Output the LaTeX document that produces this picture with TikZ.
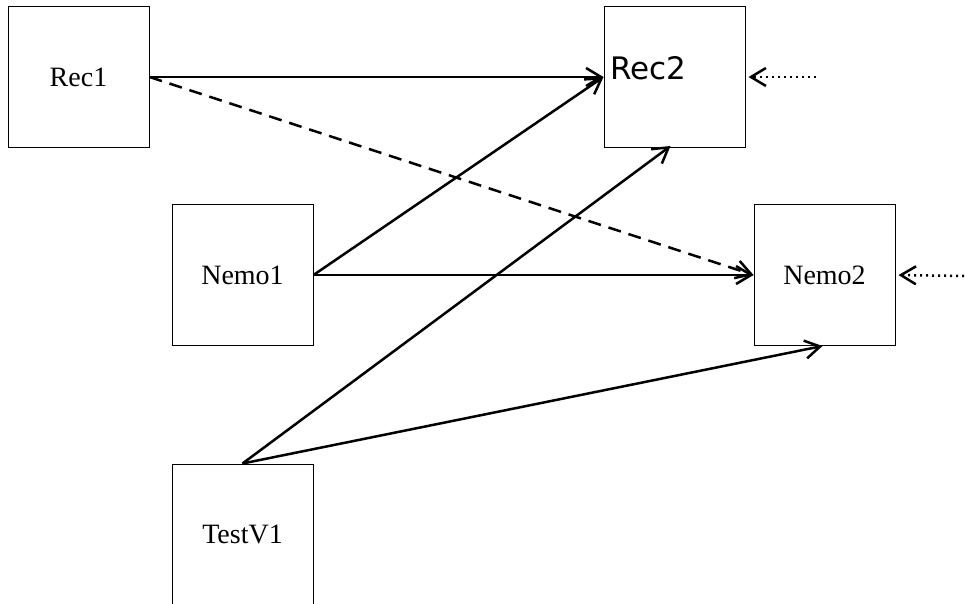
\documentclass[tikz,border=0pt]{standalone}
\usepackage{fontspec}
\setmainfont{Liberation Serif}
\newfontfamily\dejavu{DejaVu Sans}
\usetikzlibrary{arrows.meta}

\begin{document}
\begin{tikzpicture}[x=1pt, y=-1pt,
    box/.style={draw, line width=1pt, minimum width=141pt, minimum height=141pt,
        inner sep=0pt, font=\fontsize{28}{32}\selectfont},
    link/.style={line width=2.5pt, -{Straight Barb[length=15pt,width=18pt]}},
    feed/.style={link, dash pattern=on 2pt off 4pt}]

    \clip (0,0) rectangle (966,603);

    % Boxes
    \node[box] (rec1) at (78.5,77) {Rec1};
    \node[box] (rec2) at (674.5,77) {};
    \node[anchor=base west, inner sep=0pt, font=\dejavu\fontsize{31}{36}\selectfont]
        (rec2txt) at (610,79) {Rec2};
    \node[box] (nemo1) at (242.5,275) {Nemo1};
    \node[box] (nemo2) at (824.5,275) {Nemo2};
    \node[box] (testv1) at (242.5,534.5) {TestV1};

    % Inputs from outside
    \coordinate (in2) at (816,77);
    \coordinate (in3) at (964,276);

    % Links
    \draw[link] (rec1.east) -- (rec2.west);
    \draw[link, dash pattern=on 13pt off 8pt] (rec1.east) -- (nemo2.west);
    \draw[link] (nemo1.east) -- (rec2.west);
    \draw[link] (nemo1.east) -- (nemo2.west);
    \draw[link] (testv1.north) -- ([xshift=-4pt, yshift=2pt]rec2.south);
    \draw[link] (testv1.north) -- ([xshift=-2pt]nemo2.south);
    \draw[feed, shorten >=3pt] (in2) -- (rec2.east);
    \draw[feed, shorten >=3pt] (in3) -- (nemo2.east);
\end{tikzpicture}
\end{document}
